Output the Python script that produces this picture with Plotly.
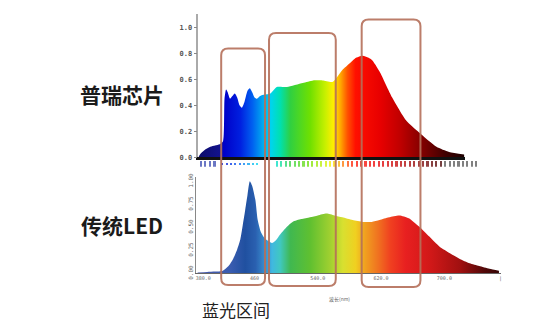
import plotly.graph_objects as go
import numpy as np

W, H = 546, 325

# ---------------- data ----------------
top_nm = [389, 391, 398, 404, 410, 416, 420, 422, 424, 426, 429, 432, 435, 438, 441, 444, 447,
          451, 454, 457, 460, 463, 467, 471, 480, 488, 501, 521, 534, 546, 559, 571, 580, 587,
          597, 608, 618, 634, 652, 668, 690, 706, 725]
top_val = [0.0, 0.02, 0.06, 0.08, 0.09, 0.10, 0.12, 0.45, 0.52, 0.50, 0.45, 0.47, 0.49, 0.46,
           0.40, 0.38, 0.42, 0.51, 0.53, 0.50, 0.46, 0.45, 0.47, 0.48, 0.49, 0.54, 0.54, 0.57,
           0.59, 0.59, 0.58, 0.67, 0.72, 0.76, 0.78, 0.75, 0.66, 0.46, 0.28, 0.19, 0.08, 0.04,
           0.02]

bot_nm = [388, 400, 410, 420, 427, 433, 438, 442, 445, 448, 451, 454, 457, 461, 464, 468, 473,
          478, 482, 487, 492, 500, 508, 519, 530, 540, 551, 561, 571, 584, 597, 608, 618, 630,
          643, 655, 668, 681, 694, 707, 719, 732, 744, 757, 769]
bot_val = [0.01, 0.015, 0.02, 0.03, 0.08, 0.16, 0.26, 0.37, 0.52, 0.68, 0.85, 1.0, 0.95, 0.80,
           0.58, 0.45, 0.38, 0.35, 0.33, 0.36, 0.42, 0.50, 0.56, 0.59, 0.61, 0.63, 0.65, 0.63,
           0.61, 0.58, 0.56, 0.56, 0.58, 0.61, 0.63, 0.60, 0.51, 0.40, 0.29, 0.22, 0.16, 0.11,
           0.08, 0.05, 0.03]

top_ytick_vals = [0, 0.2, 0.4, 0.6, 0.8, 1.0]
top_ytick_text = ["0.0", "0.2", "0.4", "0.6", "0.8", "1.0"]
bot_ytick_vals = [0, 0.25, 0.5, 0.75, 1.0]
bot_ytick_text = ["0.00", "0.25", "0.50", "0.75", "1.00"]
bot_xtick_vals = [395, 460, 540, 620, 700, 771]
bot_xtick_text = ["380.0", "460", "540.0", "620.0", "700.0", "|"]

top_colors_nm = [389, 416, 421, 442, 457, 470, 480, 492, 505, 530, 549, 559, 568, 577, 587,
                 618, 643, 668, 700, 726]
top_colors = ["#0c0c6a", "#12128c", "#0000c8", "#0020e0", "#0060f0", "#00a8f0", "#00d4f0",
              "#00e0b0", "#30d040", "#70e000", "#c8f000", "#ffee00", "#ffa800", "#ff5000",
              "#ff1000", "#e80000", "#c00000", "#880000", "#400000", "#1a0000"]
bot_colors_nm = [386, 429, 448, 461, 473, 482, 492, 505, 530, 555, 571, 587, 599, 616, 631,
                 650, 682, 719, 750, 772]
bot_colors = ["#4a5aa8", "#3a5cb0", "#2050a0", "#2a60b0", "#3a90d0", "#40b8e0", "#40c8c0",
              "#40b850", "#60c030", "#a0d030", "#d8e030", "#f0d020", "#f0a020", "#f07020",
              "#f04020", "#e82020", "#d01818", "#a01010", "#500808", "#300505"]

# decorative tick strip under the top chart (wavelength positions)
strip_nm = [393, 398, 404, 410] + [420 + 5.5 * i for i in range(9)] + \
           [489 + 5.6 * i for i in range(46)]


def px_to_nm(px):
    return 380 + (px - 191) / 0.79375


def cscale(nms, cols):
    a, b = nms[0], nms[-1]
    return [[(n - a) / (b - a), c] for n, c in zip(nms, cols)]


def interp_color(nm, nms, cols):
    nm = min(max(nm, nms[0]), nms[-1])
    for i in range(len(nms) - 1):
        if nms[i] <= nm <= nms[i + 1]:
            t = (nm - nms[i]) / (nms[i + 1] - nms[i])
            c0 = [int(cols[i][k:k + 2], 16) for k in (1, 3, 5)]
            c1 = [int(cols[i + 1][k:k + 2], 16) for k in (1, 3, 5)]
            c = [round(c0[j] + (c1[j] - c0[j]) * t) for j in range(3)]
            return "rgb(%d,%d,%d)" % tuple(c)
    return cols[-1]


def strip_color(n):
    if n < 415:
        return "#3a4ab0"
    if n < 480:
        return interp_color(n + 15, top_colors_nm, top_colors)
    if n < 700:
        return interp_color(n, top_colors_nm, top_colors)
    return "#555555"


strip_cols = [strip_color(n) for n in strip_nm]
strip_heights = [0.9 if (n < 415 or n > 480) else 0.35 for n in strip_nm]

fig = go.Figure()

fig.add_trace(go.Scatter(
    x=top_nm, y=top_val, mode="lines", line=dict(width=0, shape="spline", smoothing=0.6),
    fill="tozeroy",
    fillgradient=dict(type="horizontal", colorscale=cscale(top_colors_nm, top_colors),
                      start=top_colors_nm[0], stop=top_colors_nm[-1]),
    xaxis="x", yaxis="y", showlegend=False, hoverinfo="skip"))

fig.add_trace(go.Bar(
    x=strip_nm, y=strip_heights, base=[(1 - h) / 2 for h in strip_heights], width=2.0,
    marker=dict(color=strip_cols, line=dict(width=0), opacity=0.75),
    xaxis="x3", yaxis="y3", showlegend=False, hoverinfo="skip"))

fig.add_trace(go.Scatter(
    x=bot_nm, y=bot_val, mode="lines", line=dict(width=0, shape="spline", smoothing=0.6),
    fill="tozeroy",
    fillgradient=dict(type="horizontal", colorscale=cscale(bot_colors_nm, bot_colors),
                      start=bot_colors_nm[0], stop=bot_colors_nm[-1]),
    xaxis="x2", yaxis="y2", showlegend=False, hoverinfo="skip"))


def dom_x(a, b):
    return [a / W, b / W]


def dom_y(top, bottom):
    return [1 - bottom / H, 1 - top / H]


tickfont = dict(family="DejaVu Sans Mono", size=7, color="#555555", weight="bold")

fig.update_layout(
    width=W, height=H, margin=dict(l=0, r=0, t=0, b=0),
    paper_bgcolor="white", plot_bgcolor="rgba(0,0,0,0)", bargap=0,
    xaxis=dict(domain=dom_x(198, 466), range=[px_to_nm(198), px_to_nm(466)],
               showgrid=False, zeroline=False, showticklabels=False, ticks="",
               showline=True, linecolor="#111111", linewidth=3, anchor="y"),
    yaxis=dict(domain=dom_y(10, 158), range=[0, 148 / 134], showgrid=False, zeroline=False,
               tickvals=top_ytick_vals, ticktext=top_ytick_text, ticks="outside", ticklen=3,
               tickcolor="#888888", tickfont=tickfont, showline=True, linecolor="#aaaaaa",
               linewidth=1.5, anchor="x"),
    xaxis3=dict(domain=dom_x(190, 490), range=[px_to_nm(190), px_to_nm(490)],
                visible=False, anchor="y3"),
    yaxis3=dict(domain=dom_y(162, 168), range=[0, 1], visible=False, anchor="x3"),
    xaxis2=dict(domain=dom_x(196, 502), range=[px_to_nm(196), px_to_nm(502)],
                showgrid=False, zeroline=False, tickvals=bot_xtick_vals, ticktext=bot_xtick_text,
                ticks="", tickfont=dict(family="DejaVu Sans Mono", size=5, color="#666666"),
                showline=True, linecolor="#666666", linewidth=1, anchor="y2"),
    yaxis2=dict(domain=dom_y(178, 278), range=[0, 100 / 95], showgrid=False, zeroline=False,
                tickvals=bot_ytick_vals, ticktext=bot_ytick_text, ticks="", tickangle=-90,
                tickfont=dict(family="DejaVu Sans Mono", size=6, color="#666666"),
                showline=True, linecolor="#888888", linewidth=1, anchor="x2"),
)


def rounded_rect(x0, y0, x1, y1, r):
    def P(x, y):
        return "%.5f,%.5f" % (x / W, 1 - y / H)
    return ("M " + P(x0 + r, y0) + " L " + P(x1 - r, y0) + " Q " + P(x1, y0) + " " + P(x1, y0 + r) +
            " L " + P(x1, y1 - r) + " Q " + P(x1, y1) + " " + P(x1 - r, y1) +
            " L " + P(x0 + r, y1) + " Q " + P(x0, y1) + " " + P(x0, y1 - r) +
            " L " + P(x0, y0 + r) + " Q " + P(x0, y0) + " " + P(x0 + r, y0) + " Z")


boxes = [(221, 46, 265, 290), (269, 30, 336, 291), (362, 16, 421, 292)]
for b in boxes:
    fig.add_shape(type="path", xref="paper", yref="paper", path=rounded_rect(*b, 7),
                  line=dict(color="#b5705a", width=2), fillcolor="rgba(0,0,0,0)",
                  layer="above", opacity=0.9)


def ann(text, xpx, ypx, size, color="#1a1a1a", family="Noto Sans CJK SC", bold=True):
    fig.add_annotation(x=xpx / W, y=1 - ypx / H, xref="paper", yref="paper", text=text,
                       showarrow=False, xanchor="center", yanchor="middle",
                       font=dict(family=family, size=size, color=color,
                                 weight="bold" if bold else "normal"))


ann("普瑞芯片", 121, 93, 21)
ann("传统LED", 121, 228, 21)
ann("蓝光区间", 236, 315, 17, color="#222222", bold=False)
ann("波长(nm)", 340, 304, 5, color="#666666", bold=False)

fig.write_html("out.html")
